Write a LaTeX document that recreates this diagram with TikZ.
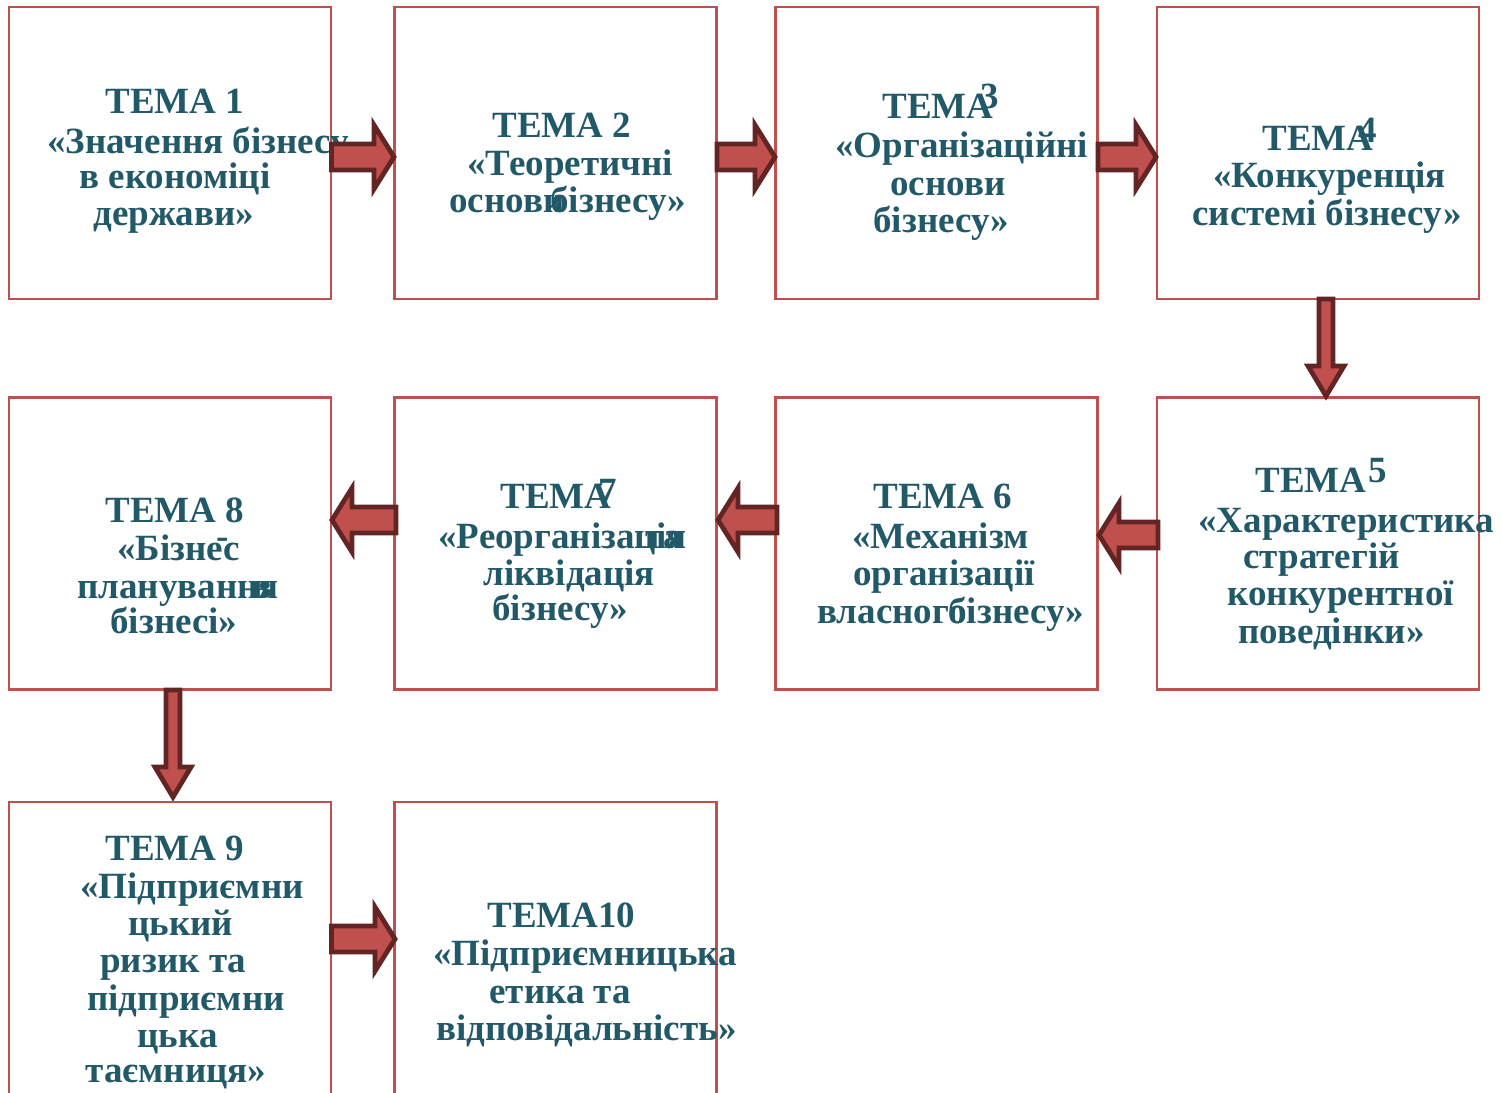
\documentclass[tikz,border=0pt]{standalone}
\usepackage{fontspec}
\setmainfont{Liberation Serif}
\usetikzlibrary{calc}
\definecolor{boxred}{RGB}{192,80,77}
\definecolor{arrowline}{RGB}{99,37,35}
\definecolor{teal}{RGB}{33,89,104}
\tikzset{
  box/.style={draw=boxred, line width=1.1pt, fill=none, minimum width=161pt, minimum height=146pt, inner sep=0pt},
  txt/.style={anchor=base west, inner sep=0pt, text=teal, font=\fontsize{18.5}{18}\selectfont\bfseries},
  blockarrow/.style={fill=boxred, draw=arrowline, line width=2.4pt, line join=miter}
}
\newcommand{\harrow}[3]{% start, end, head length (signed)
  \draw[blockarrow] ($(#1)+(0,-13)$) -- ($(#2)+({-1*(#3)},-13)$) -- ($(#2)+({-1*(#3)},-32)$) -- (#2)
    -- ($(#2)+({-1*(#3)},32)$) -- ($(#2)+({-1*(#3)},13)$) -- ($(#1)+(0,13)$) -- cycle;}
\newcommand{\varrow}[2]{% start, end (downwards)
  \draw[blockarrow] ($(#1)+(-7,0)$) -- ($(#2)+(-7,-30)$) -- ($(#2)+(-18,-30)$) -- (#2)
    -- ($(#2)+(18,-30)$) -- ($(#2)+(7,-30)$) -- ($(#1)+(7,0)$) -- cycle;}
\begin{document}
\begin{tikzpicture}[x=0.5pt,y=-0.5pt]
\useasboundingbox (0,0) rectangle (1502,1092);
% boxes
\node[box] (b1) at (170,153) {};
\node[box] (b2) at (555.5,153) {};
\node[box] (b3) at (936.5,153) {};
\node[box] (b4) at (1318,153) {};
\node[box] (b5) at (1318,543.5) {};
\node[box] (b6) at (936.5,543.5) {};
\node[box] (b7) at (555.5,543.5) {};
\node[box] (b8) at (170,543.5) {};
\node[box] (b9) at (170,948) {};
\node[box] (b10) at (555.5,948) {};
% texts box 1
\node[txt] (t1a) at (105,113) {ТЕМА 1};
\node[txt] (t1b) at (47,153) {«Значення бізнесу};
\node[txt] (t1c) at (79,188) {в економіці};
\node[txt] (t1d) at (93,225) {держави»};
% box 2
\node[txt] (t2a) at (492,137) {ТЕМА 2};
\node[txt] (t2b) at (467,175) {«Теоретичні};
\node[txt] (t2c) at (449,212) {\makebox[50.5pt][l]{основи}бізнесу»};
% box 3
\node[txt] (t3a) at (882,118) {\makebox[49pt][l]{ТЕМА}\raisebox{5pt}{3}};
\node[txt] (t3b) at (835,157) {«Організаційні};
\node[txt] (t3c) at (890,195) {основи};
\node[txt] (t3d) at (873,232) {бізнесу»};
% box 4
\node[txt] (t4a) at (1262,150) {\makebox[48pt][l]{ТЕМА}\raisebox{4pt}{4}};
\node[txt] (t4b) at (1213,187) {«Конкуренція};
\node[txt] (t4c) at (1192,225) {системі бізнесу»};
% box 5
\node[txt] (t5a) at (1255,492) {\makebox[56.5pt][l]{ТЕМА}\raisebox{5pt}{5}};
\node[txt] (t5b) at (1198,532) {«Характеристика};
\node[txt] (t5c) at (1243,568) {стратегій};
\node[txt] (t5d) at (1227,605) {конкурентної};
\node[txt] (t5e) at (1238,643) {поведінки»};
% box 6
\node[txt] (t6a) at (873,508) {ТЕМА 6};
\node[txt] (t6b) at (852,548) {«Механізм};
\node[txt] (t6c) at (853,585) {організації};
\node[txt] (t6d) at (817,623) {\makebox[65.5pt][l]{власного}бізнесу»};
% box 7
\node[txt] (t7a) at (500,508) {\makebox[49pt][l]{ТЕМА}\raisebox{2.5pt}{7}};
\node[txt] (t7b) at (438,548) {\makebox[103.5pt][l]{«Реорганізація}та};
\node[txt] (t7d) at (483,585) {ліквідація};
\node[txt] (t7e) at (492,620) {бізнесу»};
% box 8
\node[txt] (t8a) at (105,522) {ТЕМА 8};
\node[txt] (t8b) at (117,560) {\makebox[49.5pt][l]{«Бізнес}\raisebox{6pt}{-}};
\node[txt] (t8c) at (77,598) {\makebox[87.5pt][l]{планування}в};
\node[txt] (t8e) at (110,633) {бізнесі»};
% box 9
\node[txt] (t9a) at (105,860) {ТЕМА 9};
\node[txt] (t9b) at (80,898) {«Підприємни};
\node[txt] (t9c) at (128,935) {цький};
\node[txt] (t9d) at (100,972) {ризик та};
\node[txt] (t9e) at (87,1010) {підприємни};
\node[txt] (t9f) at (137,1047) {цька};
\node[txt] (t9g) at (85,1082) {таємниця»};
% box 10
\node[txt] (t10a) at (487,927) {ТЕМА10};
\node[txt] (t10b) at (433,965) {«Підприємницька};
\node[txt] (t10c) at (489,1003) {етика та};
\node[txt] (t10d) at (436,1040) {відповідальність»};
% arrow end points
\coordinate (a1s) at (331.5,157); \coordinate (a1e) at (394,157);
\coordinate (a2s) at (717,157); \coordinate (a2e) at (775,157);
\coordinate (a3s) at (1098,157); \coordinate (a3e) at (1156,157);
\coordinate (a4s) at (1326,299); \coordinate (a4e) at (1326,396);
\coordinate (a5s) at (1158,535); \coordinate (a5e) at (1099,535);
\coordinate (a6s) at (777,520); \coordinate (a6e) at (718,520);
\coordinate (a7s) at (396,520); \coordinate (a7e) at (332,520);
\coordinate (a8s) at (173,690); \coordinate (a8e) at (173,797);
\coordinate (a9s) at (331.5,939); \coordinate (a9e) at (395,939);
\harrow{a1s}{a1e}{20}
\harrow{a2s}{a2e}{20}
\harrow{a3s}{a3e}{20}
\varrow{a4s}{a4e}
\harrow{a5s}{a5e}{-20}
\harrow{a6s}{a6e}{-20}
\harrow{a7s}{a7e}{-20}
\varrow{a8s}{a8e}
\harrow{a9s}{a9e}{20}
\end{tikzpicture}
\end{document}
